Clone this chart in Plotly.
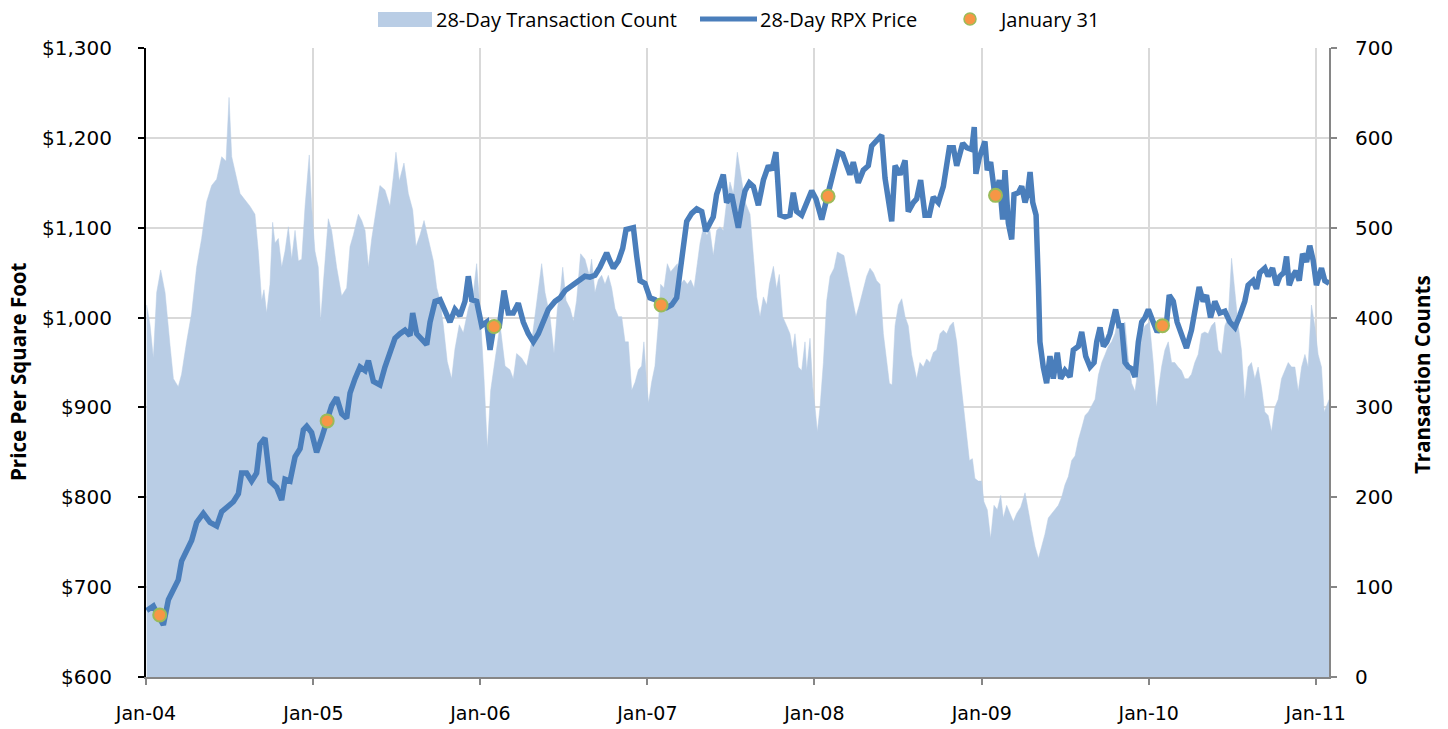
import pandas as pd
import plotly.graph_objects as go

# ---- 28-day transaction count (decimal year, count) ----
count_year = [
    2004.004, 2004.024, 2004.044, 2004.064, 2004.088, 2004.114, 2004.144, 2004.164, 2004.193, 2004.213,
    2004.243, 2004.273, 2004.303, 2004.333, 2004.363, 2004.393, 2004.423, 2004.453, 2004.479, 2004.497,
    2004.513, 2004.543, 2004.563, 2004.592, 2004.622, 2004.652, 2004.672, 2004.692, 2004.706, 2004.722,
    2004.742, 2004.758, 2004.772, 2004.792, 2004.812, 2004.832, 2004.852, 2004.872, 2004.892, 2004.912,
    2004.932, 2004.952, 2004.977, 2004.991, 2005.011, 2005.031, 2005.045, 2005.061, 2005.091, 2005.111,
    2005.141, 2005.171, 2005.201, 2005.221,
    2005.241, 2005.271, 2005.291, 2005.311, 2005.331, 2005.351, 2005.370, 2005.400, 2005.430, 2005.460,
    2005.480, 2005.496, 2005.516, 2005.544, 2005.570, 2005.596, 2005.616, 2005.640, 2005.664, 2005.690,
    2005.720, 2005.740, 2005.760, 2005.779, 2005.803, 2005.829, 2005.849, 2005.875, 2005.899, 2005.929,
    2005.959, 2005.979, 2005.999, 2006.023, 2006.043, 2006.063, 2006.089, 2006.119, 2006.149, 2006.178,
    2006.198, 2006.218, 2006.248, 2006.278, 2006.308, 2006.338, 2006.368, 2006.388, 2006.418,
    2006.442, 2006.462, 2006.482, 2006.494, 2006.514, 2006.538, 2006.558, 2006.577, 2006.601, 2006.627,
    2006.653, 2006.667, 2006.687, 2006.707, 2006.727, 2006.747, 2006.767, 2006.787, 2006.807, 2006.827,
    2006.847, 2006.867, 2006.887, 2006.907, 2006.927, 2006.947, 2006.966, 2006.980, 2006.996, 2007.008,
    2007.026, 2007.046, 2007.066, 2007.080, 2007.100, 2007.120, 2007.140, 2007.160, 2007.180, 2007.200,
    2007.220, 2007.240, 2007.260, 2007.280, 2007.296, 2007.316, 2007.336, 2007.356, 2007.375, 2007.395,
    2007.415, 2007.435, 2007.455, 2007.475, 2007.495, 2007.515, 2007.539, 2007.559, 2007.585, 2007.615,
    2007.635, 2007.655, 2007.675, 2007.695, 2007.715, 2007.731, 2007.755, 2007.774, 2007.790, 2007.810,
    2007.834, 2007.854, 2007.870, 2007.884, 2007.904, 2007.924, 2007.944, 2007.954, 2007.974, 2007.990,
    2008.004, 2008.018, 2008.034, 2008.054, 2008.074, 2008.094, 2008.118, 2008.138, 2008.157, 2008.177,
    2008.197, 2008.217, 2008.233, 2008.249, 2008.269, 2008.293, 2008.313, 2008.333, 2008.353, 2008.373,
    2008.393, 2008.413, 2008.433, 2008.449, 2008.465, 2008.483, 2008.503, 2008.523, 2008.543, 2008.562,
    2008.582, 2008.596, 2008.612, 2008.632, 2008.652, 2008.672, 2008.692, 2008.712, 2008.732, 2008.752,
    2008.772, 2008.792, 2008.812,
    2008.832, 2008.852, 2008.872, 2008.892, 2008.912, 2008.928, 2008.946, 2008.961, 2008.981, 2009.001,
    2009.015, 2009.035, 2009.055, 2009.075, 2009.095, 2009.115, 2009.131, 2009.151, 2009.171, 2009.191,
    2009.211, 2009.235, 2009.261, 2009.281, 2009.301, 2009.321, 2009.341, 2009.360, 2009.380, 2009.400,
    2009.420, 2009.440, 2009.460, 2009.480, 2009.500, 2009.520, 2009.540, 2009.560, 2009.580, 2009.600,
    2009.620, 2009.640, 2009.660, 2009.680, 2009.700, 2009.720, 2009.740, 2009.759, 2009.779, 2009.799,
    2009.819, 2009.839, 2009.859, 2009.879, 2009.899, 2009.919, 2009.939, 2009.959, 2009.979, 2010.005,
    2010.028, 2010.048, 2010.058, 2010.078, 2010.098, 2010.118, 2010.138, 2010.157, 2010.177, 2010.197,
    2010.217, 2010.237, 2010.257, 2010.277, 2010.297, 2010.317, 2010.337, 2010.357, 2010.377, 2010.397,
    2010.417, 2010.437, 2010.457, 2010.477, 2010.497, 2010.517, 2010.537, 2010.556, 2010.576, 2010.596,
    2010.616, 2010.636, 2010.656, 2010.676, 2010.696, 2010.716, 2010.736, 2010.756, 2010.776, 2010.796,
    2010.816, 2010.836, 2010.856, 2010.876, 2010.896, 2010.916, 2010.936, 2010.955, 2010.975, 2010.995,
    2011.015, 2011.035, 2011.051, 2011.069, 2011.081,
]
count_value = [
    414, 392, 355, 428, 453, 428, 369, 332, 323, 337,
    373, 405, 456, 488, 529, 547, 554, 579, 574, 645,
    579, 552, 538, 531, 524, 515, 474, 419, 431, 405,
    437, 506, 483, 488, 456, 474, 501, 465, 497, 463,
    465, 524, 581, 524, 474, 456, 396, 437, 510, 497,
    456, 424, 433, 479,
    492, 515, 508, 497, 456, 488, 510, 547, 542, 524,
    556, 584, 552, 572, 538, 520, 479, 492, 508, 488,
    463, 433, 419, 392, 351, 332, 365, 392, 383, 410,
    428, 460, 410, 332, 254, 319, 351, 392, 346, 342,
    332, 360, 355, 346, 373, 419, 460, 428, 401,
    360, 410, 433, 456, 419, 410, 396, 419, 471, 465,
    447, 465, 428, 442, 447, 437, 447, 433, 410, 401,
    401, 373, 373, 319, 328, 342, 346, 373, 328, 305,
    328, 346, 392, 437, 433, 460, 451, 456, 460, 437,
    442, 437, 442, 433, 456, 483, 501, 492, 497, 469,
    497, 501, 497, 529, 551, 538, 584, 560, 529, 515,
    473, 423, 401, 423, 414, 437, 457, 432, 448, 401,
    391, 382, 364, 382, 345, 341, 373, 341, 377, 323,
    300, 273, 300, 350, 419, 446, 455, 473, 471, 469,
    450, 432, 414, 401, 414, 432, 446, 455, 450, 441,
    437, 382, 350, 327, 325, 391, 414, 421, 401, 391,
    359, 345, 332, 350, 345, 354, 350, 361, 364, 382,
    386, 382, 391,
    395, 373, 336, 300, 264, 241, 243, 221, 218, 218,
    195, 186, 154, 191, 186, 202, 177, 191, 182, 173,
    182, 189, 205, 182, 164, 145, 132, 145, 159, 177,
    182, 186, 191, 200, 214, 223, 241, 246, 264, 277,
    291, 295, 302, 309, 336, 350, 359, 368, 373, 382,
    400, 391, 395, 354, 327, 318, 345, 382, 391, 395,
    350, 300, 318, 345, 364, 373, 350, 350, 345, 341,
    332, 332, 337, 350, 359, 382, 384, 382, 391, 395,
    364, 359, 391, 400, 466, 427, 391, 364, 309, 345,
    350, 332, 345, 323, 295, 291, 273, 300, 309, 332,
    341, 350, 345, 345, 318, 345, 359, 345, 414, 391,
    359, 345, 295, 304, 309,
]

# ---- 28-day RPX price (decimal year, $/sq ft) ----
price_year = [
    2004.004, 2004.044, 2004.074, 2004.104, 2004.134, 2004.164, 2004.193, 2004.213, 2004.243, 2004.273,
    2004.303, 2004.343, 2004.383, 2004.423, 2004.453, 2004.483, 2004.523, 2004.553, 2004.572, 2004.602,
    2004.632, 2004.662, 2004.682, 2004.712, 2004.742, 2004.782, 2004.812, 2004.832, 2004.862, 2004.892,
    2004.922, 2004.942, 2004.962, 2004.991, 2005.021, 2005.051, 2005.081, 2005.111, 2005.141, 2005.171,
    2005.201, 2005.221,
    2005.251, 2005.281, 2005.311, 2005.331, 2005.361, 2005.400, 2005.430, 2005.460, 2005.490, 2005.520,
    2005.550, 2005.580, 2005.596, 2005.620, 2005.650, 2005.680, 2005.700, 2005.730, 2005.760, 2005.789,
    2005.819, 2005.849, 2005.879, 2005.909, 2005.929, 2005.949, 2005.979, 2006.009, 2006.039, 2006.059,
    2006.083, 2006.115, 2006.143, 2006.168, 2006.198, 2006.228, 2006.258, 2006.288, 2006.318, 2006.348,
    2006.378, 2006.408,
    2006.448, 2006.478, 2006.508, 2006.538, 2006.567, 2006.597, 2006.627, 2006.657, 2006.687, 2006.717,
    2006.737, 2006.757, 2006.777, 2006.797, 2006.827, 2006.853, 2006.873, 2006.897, 2006.917, 2006.937,
    2006.957, 2006.986, 2007.016, 2007.046, 2007.080, 2007.116, 2007.146, 2007.176, 2007.206, 2007.236,
    2007.266, 2007.296, 2007.326, 2007.350, 2007.375, 2007.395, 2007.415, 2007.435, 2007.455, 2007.475,
    2007.505, 2007.525, 2007.545, 2007.565, 2007.585, 2007.611,
    2007.635, 2007.665, 2007.695, 2007.725, 2007.745, 2007.770, 2007.794, 2007.824, 2007.854, 2007.874,
    2007.894, 2007.924, 2007.954, 2007.984, 2008.010, 2008.044, 2008.078, 2008.114, 2008.144, 2008.169,
    2008.193, 2008.213, 2008.233, 2008.263, 2008.293, 2008.323, 2008.343, 2008.373, 2008.403, 2008.423,
    2008.443, 2008.463, 2008.483, 2008.513, 2008.543, 2008.562, 2008.592, 2008.612, 2008.636, 2008.662,
    2008.688, 2008.712, 2008.742, 2008.772, 2008.808,
    2008.832, 2008.852, 2008.872, 2008.888, 2008.912, 2008.942, 2008.957, 2008.967, 2008.987, 2009.007,
    2009.021, 2009.035, 2009.055, 2009.081, 2009.107, 2009.127, 2009.141, 2009.161, 2009.181, 2009.195,
    2009.221, 2009.241, 2009.261, 2009.275, 2009.291, 2009.307, 2009.327, 2009.341, 2009.350, 2009.370,
    2009.390, 2009.410, 2009.430, 2009.454, 2009.474, 2009.500, 2009.530, 2009.550, 2009.580, 2009.600,
    2009.624, 2009.650, 2009.674, 2009.690, 2009.710, 2009.730, 2009.750, 2009.769, 2009.785, 2009.803,
    2009.823, 2009.839, 2009.859, 2009.879, 2009.899, 2009.919, 2009.939, 2009.959, 2009.979, 2009.999,
    2010.028, 2010.052, 2010.078, 2010.108, 2010.124, 2010.148, 2010.171, 2010.197, 2010.227, 2010.257,
    2010.283, 2010.303, 2010.327, 2010.347, 2010.371, 2010.397, 2010.427, 2010.457, 2010.487, 2010.517,
    2010.546, 2010.576, 2010.596, 2010.626, 2010.646, 2010.666, 2010.696, 2010.716, 2010.742, 2010.766,
    2010.786, 2010.810, 2010.826, 2010.842, 2010.862, 2010.882, 2010.902, 2010.922, 2010.946, 2010.965,
    2010.985, 2011.005, 2011.035, 2011.055, 2011.081,
]
price_value = [
    674, 679, 668, 658, 686, 699, 708, 729, 740, 752,
    772, 782, 772, 768, 784, 788, 795, 804, 827, 827,
    818, 827, 859, 866, 818, 811, 797, 820, 818, 845,
    854, 875, 879, 872, 850, 866, 886, 902, 911, 893,
    888, 916,
    932, 945, 941, 952, 929, 925, 945, 959, 977, 982,
    986, 980, 1005, 982, 977, 970, 995, 1018, 1020, 1009,
    995, 1009, 1002, 1018, 1046, 1020, 1018, 991, 995, 964,
    991, 991, 1030, 1005, 1005, 1016, 995, 982, 973, 982,
    995, 1009,
    1018, 1022, 1030, 1034, 1038, 1041, 1046, 1045, 1047, 1056,
    1063, 1072, 1063, 1055, 1063, 1077, 1098, 1100, 1100, 1068,
    1041, 1038, 1022, 1020, 1014, 1011, 1014, 1022, 1061, 1107,
    1116, 1121, 1118, 1096, 1105, 1112, 1137, 1150, 1159, 1128,
    1137, 1118, 1100, 1123, 1141, 1150,
    1146, 1125, 1153, 1169, 1164, 1184, 1114, 1112, 1114, 1139,
    1118, 1114, 1128, 1141, 1132, 1109, 1135, 1159, 1184, 1182,
    1169, 1159, 1173, 1150, 1164, 1169, 1191, 1196, 1203, 1155,
    1128, 1107, 1169, 1159, 1175, 1118, 1128, 1132, 1153, 1114,
    1114, 1134, 1128, 1146, 1189,
    1189, 1169, 1184, 1194, 1189, 1187, 1212, 1160, 1178, 1189,
    1196, 1164, 1173, 1135, 1153, 1109, 1164, 1105, 1087, 1137,
    1139, 1146, 1128, 1137, 1162, 1128, 1114, 1036, 973, 945,
    927, 957, 932, 961, 932, 941, 934, 964, 968, 984,
    957, 945, 950, 973, 989, 968, 973, 982, 995, 1009,
    991, 991, 950, 945, 943, 934, 973, 995, 1000, 1009,
    995, 984, 991, 995, 1025, 1018, 995, 982, 966, 986,
    1014, 1034, 1018, 1025, 1000, 1018, 1005, 1007, 995, 989,
    1002, 1018, 1036, 1041, 1032, 1050, 1055, 1046, 1055, 1036,
    1046, 1050, 1068, 1036, 1046, 1052, 1041, 1071, 1062, 1080,
    1064, 1036, 1055, 1041, 1038,
]

# ---- January 31 markers ----
jan31_dates = ["2004-01-31", "2005-01-31", "2006-01-31", "2007-01-31",
               "2008-01-31", "2009-01-31", "2010-01-31", "2011-01-31"]
jan31_price = [669, 885, 990, 1014, 1135, 1136, 991, 1038]

x_ticks = ["2004-01-01", "2005-01-01", "2006-01-01", "2007-01-01",
           "2008-01-01", "2009-01-01", "2010-01-01", "2011-01-01"]
x_tick_labels = ["Jan-04", "Jan-05", "Jan-06", "Jan-07", "Jan-08", "Jan-09", "Jan-10", "Jan-11"]

series_names = ["28-Day Transaction Count", "28-Day RPX Price", "January 31"]

AREA_COLOR = "#B9CDE5"
LINE_COLOR = "#4A7EBB"
MARKER_FILL = "#F79646"
MARKER_EDGE = "#9BBB59"


def to_dates(years):
    base = pd.Timestamp("2004-01-01")
    return [base + pd.to_timedelta((y - 2004.0) * 365.25, unit="D") for y in years]


TICK_FONT = "DejaVu Sans, sans-serif"
TEXT_FONT = "Open Sans, sans-serif"

W, H = 1448, 729
# plot-area edges in screen pixels
L, R, T, B = 146, 1329, 48, 677
PW, PH = R - L, B - T


def px_x(p):
    return (p - L) / PW


def px_y(p):
    return (B - p) / PH


fig = go.Figure()
fig.add_trace(go.Scatter(
    x=to_dates(count_year), y=count_value, name=series_names[0],
    mode="lines", fill="tozeroy", fillcolor=AREA_COLOR,
    line=dict(color=AREA_COLOR, width=0.5), yaxis="y", showlegend=False,
))
fig.add_trace(go.Scatter(
    x=to_dates(price_year), y=price_value, name=series_names[1],
    mode="lines", line=dict(color=LINE_COLOR, width=5.5), yaxis="y2", showlegend=False,
))
fig.add_trace(go.Scatter(
    x=jan31_dates, y=jan31_price, name=series_names[2], mode="markers",
    marker=dict(color=MARKER_FILL, size=13, line=dict(color=MARKER_EDGE, width=2)),
    yaxis="y2", cliponaxis=False, showlegend=False,
))

# ---- custom legend (paper coordinates) ----
ly = px_y(19)
shapes = [
    dict(type="rect", xref="paper", yref="paper",
         x0=px_x(378), x1=px_x(432), y0=px_y(27), y1=px_y(12),
         fillcolor=AREA_COLOR, line=dict(width=0)),
    dict(type="line", xref="paper", yref="paper",
         x0=px_x(700), x1=px_x(757), y0=ly, y1=ly,
         line=dict(color=LINE_COLOR, width=5)),
    dict(type="circle", xref="paper", yref="paper",
         x0=px_x(964), x1=px_x(976), y0=px_y(25), y1=px_y(13),
         fillcolor=MARKER_FILL, line=dict(color=MARKER_EDGE, width=1.5)),
]
legend_font = dict(family=TEXT_FONT, size=20, color="#000")
title_font = dict(family=TEXT_FONT, size=20.5, color="#000")
annotations = [
    dict(text=series_names[0], x=px_x(435), y=ly, xref="paper", yref="paper",
         xanchor="left", yanchor="middle", showarrow=False, font=legend_font, borderpad=0),
    dict(text=series_names[1], x=px_x(759), y=ly, xref="paper", yref="paper",
         xanchor="left", yanchor="middle", showarrow=False, font=legend_font, borderpad=0),
    dict(text=series_names[2], x=px_x(998), y=ly, xref="paper", yref="paper",
         xanchor="left", yanchor="middle", showarrow=False, font=legend_font, borderpad=0),
    dict(text="<b>Price Per Square Foot</b>", x=px_x(18), y=px_y(372), xref="paper", yref="paper",
         xanchor="center", yanchor="middle", textangle=-90, showarrow=False, font=title_font),
    dict(text="<b>Transaction Counts</b>", x=px_x(1422), y=px_y(375), xref="paper", yref="paper",
         xanchor="center", yanchor="middle", textangle=-90, showarrow=False, font=title_font),
]

fig.update_layout(
    width=W, height=H,
    margin=dict(l=L, r=W - R, t=T, b=H - B, autoexpand=False),
    paper_bgcolor="white", plot_bgcolor="white",
    font=dict(family=TICK_FONT, size=19, color="#000000"),
    showlegend=False,
    hovermode=False,
    shapes=shapes,
    annotations=annotations,
    xaxis=dict(
        type="date", range=["2004-01-01", "2011-01-30"],
        tickmode="array", tickvals=x_ticks, ticktext=x_tick_labels,
        tickfont=dict(family=TICK_FONT, size=19),
        showgrid=True, gridcolor="#D9D9D9", gridwidth=1.5,
        showline=True, linecolor="#868686", linewidth=2,
        ticks="outside", ticklen=6, tickcolor="#868686", tickwidth=1.5,
        ticklabelstandoff=12,
        zeroline=False, automargin=False,
    ),
    yaxis=dict(
        side="right", range=[0, 700], dtick=100,
        tickfont=dict(family=TICK_FONT, size=20),
        showgrid=True, gridcolor="#D9D9D9", gridwidth=1.5,
        showline=True, linecolor="#868686", linewidth=2,
        ticks="outside", ticklen=6, tickcolor="#868686", tickwidth=1.5,
        ticklabelstandoff=14,
        zeroline=False, automargin=False,
    ),
    yaxis2=dict(
        overlaying="y", side="left", range=[600, 1300], dtick=100,
        tickprefix="$", tickformat=",",
        tickfont=dict(family=TICK_FONT, size=20),
        showgrid=False, zeroline=False,
        showline=True, linecolor="#000000", linewidth=2,
        ticks="outside", ticklen=6, tickcolor="#000000", tickwidth=1.5,
        ticklabelstandoff=22,
        automargin=False,
    ),
)

# remove the default 8px page margin so the 1448x729 figure fills the window exactly
fig.write_html("out.html", config={"displayModeBar": False},
               post_script="document.body.style.margin='0px';")
